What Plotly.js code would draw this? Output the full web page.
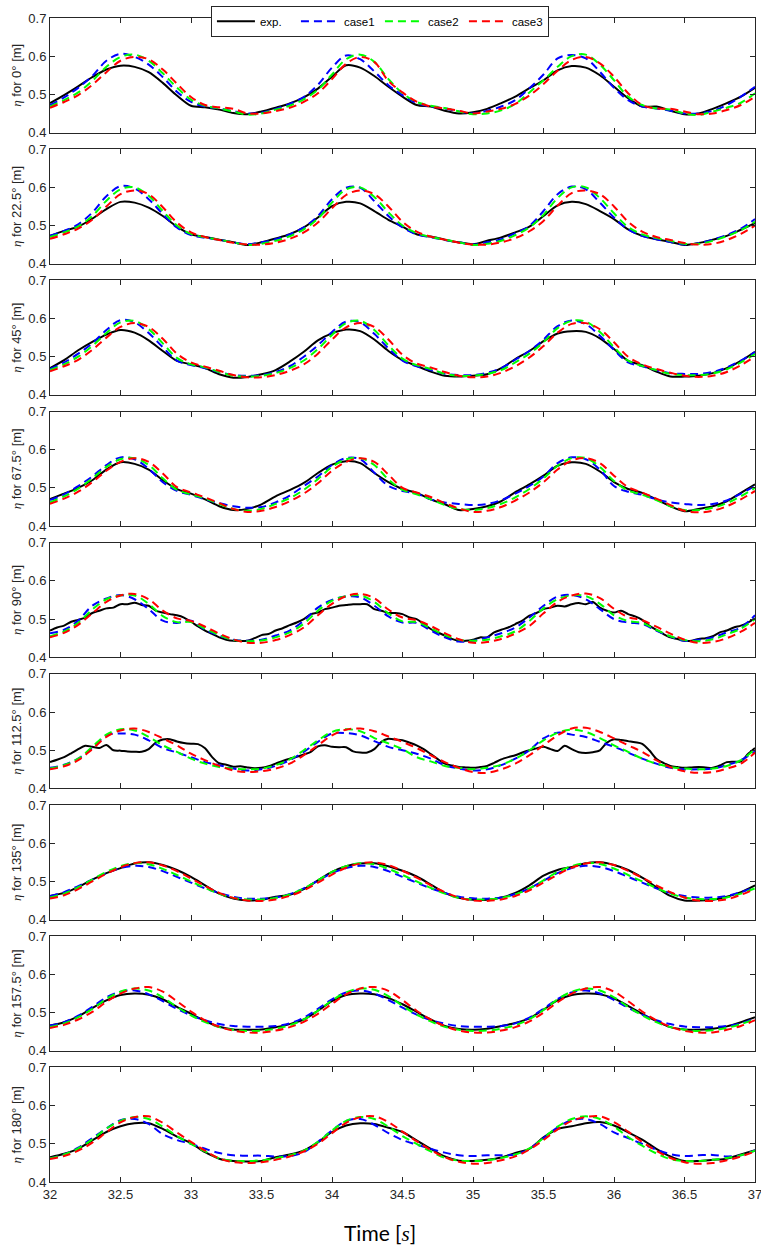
<!DOCTYPE html>
<html><head><meta charset="utf-8">
<script src="https://cdn.plot.ly/plotly-3.0.1.min.js"></script>
<style>html,body{margin:0;padding:0;background:#fff}#chart{width:761px;height:1251px}</style>
</head><body><div id="chart"></div>
<script>
const time = [32.0,32.1,32.2,32.3,32.4,32.5,32.6,32.7,32.8,32.9,33.0,33.1,33.2,33.3,33.4,33.5,33.6,33.7,33.8,33.9,34.0,34.1,34.2,34.3,34.4,34.5,34.6,34.7,34.8,34.9,35.0,35.1,35.2,35.3,35.4,35.5,35.6,35.7,35.8,35.9,36.0,36.1,36.2,36.3,36.4,36.5,36.6,36.7,36.8,36.9,37.0];
const timeFine = [32.00,32.05,32.10,32.15,32.20,32.25,32.30,32.35,32.40,32.45,32.50,32.55,32.60,32.65,32.70,32.75,32.80,32.85,32.90,32.95,33.00,33.05,33.10,33.15,33.20,33.25,33.30,33.35,33.40,33.45,33.50,33.55,33.60,33.65,33.70,33.75,33.80,33.85,33.90,33.95,34.00,34.05,34.10,34.15,34.20,34.25,34.30,34.35,34.40,34.45,34.50,34.55,34.60,34.65,34.70,34.75,34.80,34.85,34.90,34.95,35.00,35.05,35.10,35.15,35.20,35.25,35.30,35.35,35.40,35.45,35.50,35.55,35.60,35.65,35.70,35.75,35.80,35.85,35.90,35.95,36.00,36.05,36.10,36.15,36.20,36.25,36.30,36.35,36.40,36.45,36.50,36.55,36.60,36.65,36.70,36.75,36.80,36.85,36.90,36.95,37.00];
const angleLabels = ['0°','22.5°','45°','67.5°','90°','112.5°','135°','157.5°','180°'];
const seriesNames = ['exp.','case1','case2','case3'];
const xTickVals = [32,32.5,33,33.5,34,34.5,35,35.5,36,36.5,37];
const xTickText = ['32','32.5','33','33.5','34','34.5','35','35.5','36','36.5','37'];
const yTickVals = [0.4,0.5,0.6,0.7];
const yTickText = ['0.4','0.5','0.6','0.7'];

// 0 deg
const exp_0 = [0.477,0.498,0.521,0.545,0.565,0.575,0.572,0.558,0.530,0.497, 0.470,0.466,0.460,0.451,0.448,0.455,0.465,0.476,0.492,0.515, 0.546,0.576,0.570,0.548,0.520,0.494,0.472,0.468,0.457,0.450, 0.453,0.462,0.477,0.494,0.516,0.537,0.563,0.574,0.570,0.550, 0.520,0.490,0.468,0.468,0.457,0.448,0.450,0.462,0.477,0.494, 0.517];
const c1_0 = [0.472,0.492,0.517,0.548,0.588,0.606,0.598,0.578,0.545,0.507, 0.480,0.468,0.463,0.456,0.450,0.452,0.462,0.475,0.493,0.525, 0.570,0.602,0.592,0.560,0.524,0.498,0.477,0.468,0.463,0.455, 0.450,0.457,0.468,0.485,0.516,0.552,0.594,0.603,0.594,0.559, 0.517,0.485,0.468,0.463,0.457,0.450,0.450,0.457,0.472,0.494, 0.520];
const c2_0 = [0.468,0.485,0.505,0.535,0.572,0.598,0.604,0.588,0.555,0.518, 0.486,0.470,0.463,0.455,0.447,0.450,0.460,0.470,0.487,0.512, 0.552,0.592,0.604,0.585,0.540,0.503,0.480,0.470,0.464,0.455, 0.448,0.450,0.458,0.475,0.505,0.537,0.572,0.600,0.604,0.578, 0.537,0.494,0.472,0.463,0.460,0.450,0.446,0.455,0.465,0.478, 0.503];
const c3_0 = [0.465,0.480,0.498,0.525,0.558,0.588,0.598,0.592,0.565,0.528, 0.493,0.472,0.466,0.462,0.450,0.450,0.456,0.465,0.480,0.503, 0.540,0.580,0.598,0.585,0.535,0.505,0.481,0.468,0.463,0.457, 0.450,0.455,0.462,0.475,0.497,0.527,0.562,0.590,0.598,0.581, 0.546,0.503,0.472,0.463,0.462,0.455,0.448,0.450,0.459,0.472, 0.494];
// 22.5 deg
const exp_22 = [0.473,0.486,0.497,0.518,0.543,0.562,0.560,0.547,0.525,0.497, 0.477,0.470,0.463,0.456,0.449,0.456,0.466,0.477,0.495,0.521, 0.551,0.562,0.558,0.538,0.515,0.497,0.477,0.471,0.463,0.456, 0.451,0.460,0.469,0.482,0.497,0.525,0.553,0.562,0.556,0.538, 0.517,0.490,0.473,0.464,0.457,0.449,0.454,0.463,0.473,0.489, 0.506];
const c1_22 = [0.473,0.486,0.503,0.534,0.577,0.603,0.597,0.569,0.530,0.495, 0.475,0.468,0.463,0.456,0.451,0.456,0.464,0.477,0.495,0.525, 0.569,0.599,0.599,0.564,0.525,0.495,0.477,0.469,0.462,0.456, 0.450,0.456,0.464,0.480,0.499,0.538,0.582,0.602,0.595,0.560, 0.521,0.490,0.473,0.464,0.457,0.450,0.454,0.463,0.475,0.492, 0.517];
const c2_22 = [0.470,0.482,0.498,0.525,0.565,0.595,0.600,0.578,0.538,0.500, 0.478,0.469,0.463,0.456,0.449,0.452,0.460,0.472,0.490,0.518, 0.560,0.595,0.600,0.575,0.535,0.500,0.480,0.470,0.463,0.456, 0.449,0.452,0.460,0.475,0.495,0.528,0.572,0.600,0.600,0.572, 0.532,0.496,0.477,0.467,0.460,0.452,0.452,0.460,0.472,0.488, 0.510];
const c3_22 = [0.465,0.477,0.492,0.515,0.550,0.582,0.592,0.582,0.548,0.508, 0.482,0.470,0.462,0.455,0.450,0.450,0.455,0.465,0.482,0.508, 0.545,0.580,0.592,0.582,0.550,0.510,0.484,0.471,0.463,0.455, 0.450,0.450,0.456,0.467,0.485,0.512,0.552,0.585,0.592,0.582, 0.550,0.510,0.484,0.470,0.462,0.454,0.450,0.452,0.462,0.478, 0.500];
// 45 deg
const exp_45 = [0.470,0.491,0.517,0.539,0.558,0.570,0.563,0.543,0.515,0.489, 0.480,0.470,0.454,0.445,0.447,0.454,0.465,0.487,0.513,0.543, 0.561,0.571,0.567,0.545,0.515,0.491,0.476,0.461,0.450,0.448, 0.450,0.454,0.470,0.494,0.515,0.541,0.561,0.567,0.565,0.548, 0.520,0.489,0.478,0.461,0.448,0.448,0.450,0.457,0.470,0.489, 0.513];
const c1_45 = [0.468,0.485,0.508,0.535,0.570,0.596,0.590,0.562,0.525,0.490, 0.478,0.470,0.460,0.452,0.450,0.452,0.460,0.475,0.500,0.530, 0.565,0.592,0.590,0.560,0.522,0.490,0.475,0.465,0.455,0.452, 0.452,0.458,0.470,0.492,0.515,0.545,0.580,0.595,0.585,0.555, 0.518,0.485,0.475,0.465,0.457,0.455,0.455,0.460,0.472,0.490, 0.512];
const c2_45 = [0.465,0.480,0.500,0.528,0.562,0.590,0.594,0.572,0.535,0.497, 0.480,0.472,0.460,0.450,0.448,0.450,0.457,0.470,0.490,0.520, 0.557,0.588,0.594,0.570,0.530,0.495,0.478,0.468,0.455,0.450, 0.450,0.455,0.465,0.485,0.508,0.538,0.575,0.594,0.592,0.565, 0.525,0.490,0.476,0.465,0.455,0.452,0.452,0.456,0.467,0.485, 0.507];
const c3_45 = [0.462,0.475,0.492,0.518,0.550,0.578,0.588,0.578,0.547,0.508, 0.485,0.474,0.463,0.452,0.446,0.446,0.452,0.463,0.480,0.508, 0.545,0.577,0.588,0.578,0.545,0.505,0.482,0.472,0.460,0.450, 0.446,0.448,0.458,0.475,0.498,0.528,0.563,0.586,0.588,0.572, 0.538,0.500,0.480,0.468,0.458,0.450,0.447,0.450,0.460,0.478, 0.500];
// 67.5 deg
const exp_67 = [0.471,0.485,0.500,0.520,0.548,0.567,0.563,0.548,0.520,0.497, 0.485,0.470,0.452,0.442,0.445,0.457,0.478,0.494,0.513,0.539, 0.561,0.570,0.565,0.539,0.515,0.497,0.487,0.470,0.457,0.442, 0.445,0.452,0.465,0.489,0.509,0.532,0.558,0.567,0.563,0.543, 0.515,0.497,0.487,0.470,0.452,0.439,0.445,0.452,0.465,0.487, 0.509];
const c1_67 = [0.468,0.483,0.505,0.530,0.560,0.580,0.575,0.550,0.515,0.492, 0.482,0.470,0.460,0.452,0.448,0.450,0.462,0.480,0.505,0.530, 0.560,0.578,0.575,0.540,0.505,0.492,0.485,0.470,0.462,0.458, 0.455,0.458,0.468,0.485,0.505,0.530,0.565,0.580,0.575,0.548, 0.505,0.490,0.482,0.470,0.462,0.458,0.455,0.458,0.467,0.485, 0.505];
const c2_67 = [0.462,0.478,0.498,0.525,0.555,0.575,0.578,0.560,0.525,0.495, 0.483,0.472,0.458,0.445,0.440,0.445,0.458,0.473,0.495,0.523, 0.555,0.575,0.578,0.560,0.522,0.495,0.483,0.470,0.455,0.445, 0.442,0.447,0.458,0.475,0.497,0.525,0.558,0.578,0.578,0.555, 0.518,0.493,0.482,0.468,0.452,0.442,0.442,0.448,0.460,0.478, 0.500];
const c3_67 = [0.458,0.472,0.490,0.515,0.545,0.568,0.578,0.568,0.538,0.502, 0.488,0.475,0.460,0.445,0.437,0.440,0.450,0.465,0.485,0.512, 0.545,0.568,0.578,0.568,0.535,0.500,0.488,0.476,0.460,0.446, 0.437,0.440,0.450,0.467,0.488,0.515,0.548,0.572,0.578,0.565, 0.532,0.502,0.488,0.472,0.455,0.440,0.436,0.440,0.452,0.470, 0.492];
// 90 deg (exp sampled on timeFine)
const exp_90 = [0.470,0.478,0.483,0.493,0.498,0.504,0.516,0.522,0.528,0.530, 0.539,0.539,0.543,0.537,0.535,0.522,0.517,0.513,0.510,0.504, 0.493,0.481,0.470,0.461,0.452,0.446,0.443,0.443,0.443,0.450, 0.458,0.461,0.470,0.476,0.484,0.491,0.500,0.513,0.517,0.526, 0.530,0.535,0.537,0.539,0.539,0.539,0.526,0.522,0.516,0.516, 0.513,0.504,0.500,0.487,0.474,0.465,0.457,0.448,0.443,0.443, 0.446,0.452,0.452,0.465,0.472,0.478,0.487,0.496,0.509,0.516, 0.526,0.530,0.535,0.533,0.539,0.542,0.539,0.545,0.530,0.522, 0.517,0.522,0.513,0.507,0.498,0.483,0.472,0.461,0.452,0.448, 0.443,0.443,0.448,0.450,0.455,0.465,0.470,0.478,0.483,0.491, 0.502];
const c1_90 = [0.463,0.472,0.496,0.535,0.554,0.563,0.552,0.526,0.496,0.490, 0.496,0.472,0.457,0.446,0.443,0.446,0.457,0.470,0.496,0.530, 0.550,0.559,0.557,0.535,0.507,0.491,0.490,0.470,0.452,0.441, 0.443,0.452,0.463,0.478,0.504,0.535,0.559,0.563,0.552,0.526, 0.500,0.491,0.487,0.470,0.454,0.443,0.446,0.452,0.465,0.478, 0.510];
const c2_90 = [0.455,0.468,0.490,0.525,0.552,0.562,0.562,0.540,0.508,0.492, 0.492,0.475,0.458,0.445,0.442,0.444,0.452,0.465,0.488,0.522, 0.548,0.560,0.562,0.545,0.515,0.494,0.492,0.476,0.458,0.446, 0.443,0.446,0.455,0.468,0.495,0.528,0.552,0.562,0.560,0.540, 0.510,0.495,0.490,0.472,0.455,0.445,0.442,0.447,0.460,0.475, 0.500];
const c3_90 = [0.452,0.464,0.485,0.515,0.545,0.562,0.566,0.552,0.522,0.502, 0.495,0.480,0.462,0.447,0.438,0.438,0.445,0.458,0.478,0.510, 0.540,0.560,0.566,0.555,0.525,0.504,0.497,0.482,0.463,0.447, 0.438,0.440,0.448,0.462,0.482,0.515,0.545,0.562,0.567,0.555, 0.527,0.505,0.497,0.480,0.462,0.446,0.438,0.440,0.450,0.467, 0.490];
// 112.5 deg (exp sampled on timeFine)
const exp_112 = [0.469,0.475,0.482,0.492,0.503,0.512,0.509,0.506,0.514,0.500, 0.499,0.497,0.496,0.496,0.503,0.520,0.528,0.529,0.523,0.519, 0.517,0.516,0.505,0.482,0.466,0.462,0.457,0.458,0.455,0.453, 0.454,0.458,0.465,0.472,0.478,0.483,0.489,0.496,0.510,0.513, 0.509,0.508,0.508,0.497,0.494,0.494,0.503,0.522,0.530,0.528, 0.526,0.520,0.513,0.503,0.490,0.477,0.465,0.460,0.456,0.455, 0.454,0.456,0.459,0.467,0.476,0.482,0.487,0.494,0.500,0.505, 0.509,0.503,0.498,0.512,0.503,0.495,0.493,0.495,0.500,0.520, 0.529,0.527,0.524,0.521,0.517,0.500,0.478,0.467,0.459,0.456, 0.454,0.455,0.456,0.455,0.454,0.460,0.469,0.470,0.471,0.490, 0.506];
const c1_112 = [0.454,0.462,0.478,0.506,0.539,0.544,0.541,0.526,0.506,0.494, 0.482,0.469,0.461,0.452,0.447,0.450,0.459,0.474,0.496,0.522, 0.544,0.545,0.539,0.524,0.509,0.500,0.491,0.478,0.461,0.452, 0.447,0.450,0.461,0.478,0.500,0.531,0.546,0.541,0.535,0.522, 0.509,0.494,0.478,0.465,0.454,0.450,0.450,0.452,0.461,0.474, 0.497];
const c2_112 = [0.452,0.461,0.478,0.509,0.541,0.555,0.552,0.535,0.513,0.496, 0.478,0.465,0.456,0.452,0.450,0.452,0.461,0.476,0.500,0.526, 0.548,0.555,0.550,0.532,0.518,0.503,0.482,0.471,0.459,0.454, 0.450,0.454,0.462,0.478,0.500,0.526,0.546,0.554,0.548,0.532, 0.513,0.496,0.478,0.465,0.456,0.452,0.450,0.452,0.459,0.474, 0.503];
const c3_112 = [0.450,0.458,0.474,0.503,0.535,0.552,0.557,0.548,0.531,0.513, 0.491,0.474,0.459,0.447,0.443,0.445,0.452,0.465,0.487,0.513, 0.539,0.554,0.557,0.550,0.536,0.522,0.506,0.487,0.469,0.454, 0.443,0.441,0.450,0.465,0.487,0.513,0.539,0.557,0.559,0.548, 0.531,0.513,0.496,0.474,0.456,0.445,0.441,0.443,0.452,0.465, 0.494];
// 135 deg
const exp_135 = [0.462,0.470,0.485,0.505,0.522,0.535,0.547,0.550,0.543,0.530, 0.512,0.490,0.468,0.455,0.450,0.452,0.460,0.465,0.480,0.503, 0.525,0.540,0.547,0.548,0.540,0.528,0.513,0.492,0.470,0.457, 0.452,0.452,0.458,0.470,0.490,0.515,0.530,0.538,0.548,0.550, 0.543,0.530,0.510,0.485,0.462,0.450,0.450,0.452,0.460,0.472, 0.490];
const c1_135 = [0.462,0.472,0.488,0.505,0.522,0.535,0.541,0.538,0.527,0.512, 0.497,0.482,0.470,0.460,0.455,0.455,0.458,0.467,0.482,0.502, 0.522,0.535,0.541,0.538,0.527,0.512,0.497,0.482,0.470,0.460, 0.456,0.455,0.458,0.467,0.482,0.502,0.522,0.535,0.541,0.538, 0.527,0.512,0.497,0.482,0.470,0.462,0.458,0.458,0.462,0.472, 0.485];
const c2_135 = [0.458,0.468,0.485,0.505,0.525,0.540,0.548,0.545,0.533,0.517, 0.500,0.483,0.468,0.457,0.453,0.453,0.457,0.466,0.482,0.503, 0.525,0.540,0.548,0.545,0.533,0.517,0.500,0.483,0.468,0.457, 0.453,0.453,0.457,0.466,0.482,0.503,0.525,0.540,0.548,0.546, 0.534,0.517,0.500,0.483,0.468,0.458,0.454,0.454,0.458,0.468, 0.482];
const c3_135 = [0.455,0.464,0.480,0.500,0.520,0.537,0.548,0.550,0.542,0.527, 0.508,0.488,0.470,0.457,0.450,0.449,0.453,0.462,0.477,0.497, 0.518,0.536,0.547,0.550,0.543,0.528,0.510,0.490,0.472,0.458, 0.450,0.449,0.453,0.462,0.477,0.497,0.518,0.536,0.547,0.550, 0.543,0.528,0.510,0.490,0.472,0.458,0.450,0.449,0.453,0.465, 0.480];
// 157.5 deg
const exp_157 = [0.466,0.475,0.490,0.512,0.532,0.546,0.550,0.547,0.535,0.515, 0.497,0.478,0.463,0.456,0.455,0.456,0.462,0.470,0.482,0.505, 0.530,0.546,0.550,0.548,0.538,0.522,0.502,0.482,0.465,0.457, 0.455,0.458,0.465,0.473,0.485,0.508,0.532,0.546,0.550,0.548, 0.537,0.518,0.497,0.478,0.462,0.456,0.455,0.458,0.464,0.475, 0.488];
const c1_157 = [0.466,0.475,0.492,0.515,0.540,0.555,0.558,0.548,0.530,0.510, 0.493,0.480,0.470,0.465,0.463,0.463,0.465,0.472,0.487,0.510, 0.535,0.553,0.558,0.550,0.533,0.513,0.495,0.481,0.471,0.465, 0.463,0.463,0.465,0.472,0.487,0.510,0.536,0.553,0.558,0.550, 0.533,0.513,0.495,0.480,0.470,0.464,0.462,0.462,0.465,0.472, 0.485];
const c2_157 = [0.462,0.472,0.488,0.510,0.536,0.555,0.563,0.558,0.540,0.515, 0.493,0.475,0.462,0.455,0.452,0.453,0.458,0.467,0.482,0.505, 0.532,0.553,0.563,0.560,0.543,0.518,0.495,0.477,0.463,0.455, 0.452,0.453,0.458,0.467,0.483,0.507,0.535,0.555,0.563,0.558, 0.540,0.515,0.493,0.475,0.462,0.455,0.452,0.454,0.460,0.470, 0.483];
const c3_157 = [0.460,0.468,0.482,0.502,0.528,0.550,0.563,0.567,0.555,0.530, 0.503,0.480,0.463,0.453,0.448,0.448,0.453,0.462,0.476,0.497, 0.523,0.548,0.563,0.567,0.557,0.533,0.505,0.482,0.465,0.453, 0.448,0.448,0.453,0.462,0.477,0.500,0.527,0.550,0.563,0.567, 0.555,0.530,0.503,0.480,0.463,0.452,0.448,0.448,0.455,0.465, 0.480];
// 180 deg
const exp_180 = [0.465,0.474,0.487,0.509,0.531,0.546,0.554,0.554,0.539,0.519, 0.502,0.478,0.461,0.455,0.454,0.455,0.465,0.472,0.483,0.504, 0.531,0.548,0.554,0.552,0.542,0.531,0.509,0.487,0.467,0.456, 0.455,0.458,0.464,0.476,0.487,0.517,0.539,0.546,0.554,0.557, 0.548,0.530,0.511,0.487,0.467,0.455,0.455,0.458,0.461,0.472, 0.483];
const c1_180 = [0.462,0.472,0.490,0.515,0.540,0.562,0.565,0.552,0.525,0.510, 0.500,0.487,0.476,0.470,0.469,0.469,0.467,0.468,0.478,0.505, 0.535,0.560,0.565,0.550,0.528,0.510,0.498,0.487,0.477,0.470, 0.468,0.470,0.470,0.472,0.487,0.515,0.543,0.562,0.565,0.552, 0.530,0.515,0.500,0.485,0.473,0.468,0.470,0.471,0.467,0.470, 0.483];
const c2_180 = [0.462,0.472,0.488,0.512,0.540,0.560,0.570,0.565,0.545,0.520, 0.500,0.480,0.462,0.455,0.455,0.457,0.462,0.470,0.482,0.505, 0.535,0.560,0.570,0.565,0.545,0.520,0.500,0.480,0.463,0.456, 0.455,0.457,0.463,0.472,0.488,0.515,0.545,0.565,0.572,0.565, 0.545,0.518,0.495,0.475,0.460,0.455,0.455,0.458,0.463,0.470, 0.482];
const c3_180 = [0.460,0.468,0.482,0.503,0.530,0.556,0.570,0.572,0.555,0.530, 0.505,0.482,0.462,0.452,0.450,0.452,0.458,0.467,0.480,0.500, 0.528,0.555,0.570,0.572,0.557,0.532,0.507,0.484,0.465,0.453, 0.448,0.450,0.457,0.467,0.485,0.510,0.538,0.560,0.570,0.572, 0.557,0.532,0.505,0.482,0.463,0.452,0.448,0.450,0.457,0.467, 0.480];

const panels = [
  {exp: exp_0,   expT: time,     c: [c1_0, c2_0, c3_0]},
  {exp: exp_22,  expT: time,     c: [c1_22, c2_22, c3_22]},
  {exp: exp_45,  expT: time,     c: [c1_45, c2_45, c3_45]},
  {exp: exp_67,  expT: time,     c: [c1_67, c2_67, c3_67]},
  {exp: exp_90,  expT: timeFine, c: [c1_90, c2_90, c3_90]},
  {exp: exp_112, expT: timeFine, c: [c1_112, c2_112, c3_112]},
  {exp: exp_135, expT: time,     c: [c1_135, c2_135, c3_135]},
  {exp: exp_157, expT: time,     c: [c1_157, c2_157, c3_157]},
  {exp: exp_180, expT: time,     c: [c1_180, c2_180, c3_180]}
];

const caseColors = ['#0000ff', '#00ff00', '#ff0000'];
const axColor = '#262626';
const fontFam = '"Liberation Sans", Arial, Helvetica, sans-serif';

const traces = [];
const layout = {
  width: 761, height: 1251,
  margin: {l: 50, r: 6, t: 13, b: 69},
  paper_bgcolor: '#ffffff', plot_bgcolor: '#ffffff',
  font: {family: fontFam, size: 12, color: axColor},
  showlegend: true,
  legend: {
    orientation: 'h', x: 0.468, xanchor: 'center', y: 1.0105, yanchor: 'top',
    bordercolor: axColor, borderwidth: 1, bgcolor: '#ffffff',
    font: {family: fontFam, size: 11.5, color: '#000'}, traceorder: 'normal',
    entrywidth: 31, entrywidthmode: 'pixels', itemwidth: 38
  },
  annotations: [{
    text: 'Time [<i><span style="font-family:\'Liberation Serif\', serif">s</span></i>]',
    xref: 'paper', yref: 'paper', x: 0.468, xanchor: 'center',
    y: -(1233 - 1182) / 1169, yanchor: 'middle', showarrow: false,
    font: {family: 'Lato, "Liberation Sans", sans-serif', size: 21, color: '#000'}
  }]
};

const H = 1169, ph = 115, pitch = (H - ph) / 8;
panels.forEach((p, i) => {
  const sfx = i === 0 ? '' : String(i + 1);
  const xa = 'x' + sfx, ya = 'y' + sfx;
  traces.push({
    x: p.expT, y: p.exp, xaxis: xa, yaxis: ya, type: 'scatter', mode: 'lines',
    name: seriesNames[0], legendgroup: 'g0', showlegend: i === 0,
    line: {color: '#000000', width: 2, shape: 'spline', smoothing: 0.8}
  });
  p.c.forEach((arr, k) => {
    traces.push({
      x: time, y: arr, xaxis: xa, yaxis: ya, type: 'scatter', mode: 'lines',
      name: seriesNames[k + 1], legendgroup: 'g' + (k + 1), showlegend: i === 0,
      line: {color: caseColors[k], width: 2, dash: '8px,5px', shape: 'spline', smoothing: 1}
    });
  });
  const top = 1 - (i * pitch) / H;
  const bot = 1 - (i * pitch + ph) / H;
  layout['xaxis' + sfx] = {
    domain: [0, 1], anchor: ya, range: [32, 37],
    tickvals: xTickVals, ticktext: xTickText, showticklabels: i === 8,
    ticklabeloverflow: 'allow',
    ticks: 'inside', ticklen: 5, tickwidth: 1, tickcolor: axColor,
    mirror: 'allticks', showline: true, linecolor: axColor, linewidth: 1,
    showgrid: false, zeroline: false,
    tickfont: {family: fontFam, size: 13, color: axColor}
  };
  layout['yaxis' + sfx] = {
    domain: [bot, top], anchor: xa, range: [0.4, 0.7],
    tickvals: yTickVals, ticktext: yTickText,
    ticks: 'inside', ticklen: 5, tickwidth: 1, tickcolor: axColor,
    mirror: 'allticks', showline: true, linecolor: axColor, linewidth: 1,
    showgrid: false, zeroline: false,
    tickfont: {family: fontFam, size: 13, color: axColor},
    title: {
      text: '<i><span style="font-family:\'Liberation Serif\', serif">η</span></i> for ' + angleLabels[i] + ' [m]',
      font: {family: fontFam, size: 13, color: axColor},
      standoff: 3
    }
  };
});

Plotly.newPlot('chart', traces, layout, {displayModeBar: false, staticPlot: true});
</script>
</body></html>
